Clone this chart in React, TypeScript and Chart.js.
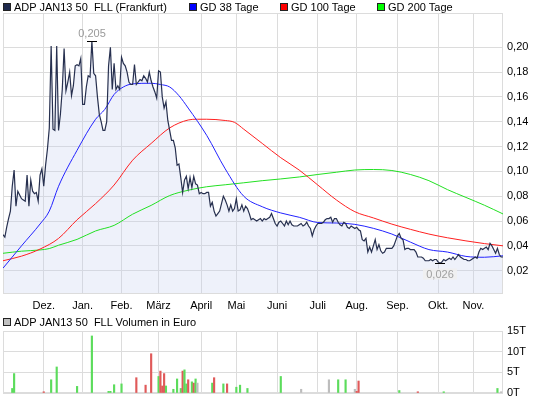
import React, { useEffect, useRef } from 'react';
import { Chart, registerables } from 'chart.js';

Chart.register(...registerables);

// ---- data ----
const seriesName = 'ADP JAN13 50  FLL (Frankfurt)';
const volumeName = 'ADP JAN13 50  FLL Volumen in Euro';

// daily closing prices, trading day index 0..270
const priceValues = [
  0.049, 0.047, 0.055, 0.062, 0.068, 0.088, 0.101, 0.072, 0.084, 0.081,
  0.078, 0.077, 0.076, 0.097, 0.072, 0.093, 0.084, 0.082, 0.083, 0.076,
  0.097, 0.102, 0.088, 0.105, 0.118, 0.135, 0.201, 0.134, 0.133, 0.201,
  0.133, 0.146, 0.166, 0.199, 0.165, 0.172, 0.180, 0.161, 0.169, 0.185,
  0.186, 0.185, 0.191, 0.154, 0.154, 0.168, 0.177, 0.176, 0.205, 0.179,
  0.177, 0.160, 0.146, 0.140, 0.133, 0.133, 0.140, 0.185, 0.200, 0.166,
  0.187, 0.166, 0.169, 0.166, 0.192, 0.187, 0.185, 0.180, 0.172, 0.170,
  0.170, 0.186, 0.170, 0.172, 0.174, 0.173, 0.177, 0.175, 0.172, 0.180,
  0.173, 0.168, 0.164, 0.159, 0.181, 0.180, 0.160, 0.151, 0.156, 0.141,
  0.133, 0.125, 0.125, 0.119, 0.105, 0.106, 0.095, 0.083, 0.093, 0.096,
  0.086, 0.095, 0.087, 0.096, 0.090, 0.089, 0.082, 0.083, 0.082, 0.082,
  0.083, 0.083, 0.072, 0.075, 0.068, 0.064, 0.066, 0.068, 0.074, 0.080,
  0.077, 0.073, 0.068, 0.073, 0.068, 0.070, 0.078, 0.068, 0.069, 0.073,
  0.068, 0.072, 0.070, 0.066, 0.061, 0.062, 0.061, 0.060, 0.061, 0.062,
  0.060, 0.062, 0.061, 0.062, 0.063, 0.066, 0.062, 0.058, 0.056, 0.059,
  0.060, 0.058, 0.056, 0.060, 0.057, 0.060, 0.057, 0.056, 0.056, 0.056,
  0.057, 0.058, 0.056, 0.057, 0.059, 0.056, 0.054, 0.048, 0.053, 0.056,
  0.058, 0.058, 0.058, 0.059, 0.061, 0.062, 0.062, 0.063, 0.059, 0.062,
  0.062, 0.059, 0.057, 0.056, 0.059, 0.058, 0.055, 0.054, 0.056, 0.055,
  0.054, 0.055, 0.053, 0.052, 0.045, 0.044, 0.046, 0.035, 0.039, 0.035,
  0.040, 0.045, 0.037, 0.041, 0.036, 0.034, 0.035, 0.038, 0.038, 0.038,
  0.038, 0.040, 0.044, 0.048, 0.050, 0.046, 0.045, 0.037, 0.038, 0.038,
  0.037, 0.037, 0.037, 0.035, 0.031, 0.031, 0.031, 0.030, 0.028, 0.028,
  0.028, 0.029, 0.028, 0.029, 0.029, 0.027, 0.026, 0.027, 0.029, 0.028,
  0.029, 0.030, 0.029, 0.031, 0.029, 0.031, 0.033, 0.031, 0.030, 0.029,
  0.029, 0.028, 0.028, 0.029, 0.030, 0.031, 0.030, 0.035, 0.038, 0.037,
  0.038, 0.039, 0.037, 0.042, 0.040, 0.037, 0.034, 0.038, 0.033, 0.031,
  0.031,
];

const gd38Days = [0, 5, 10, 20, 25, 30, 40, 50, 55, 60, 65, 70, 80, 85, 90, 95, 100, 110, 120, 130, 140, 150, 160, 170, 180, 190, 200, 210, 220, 230, 240, 250, 260, 270];
const gd38Values = [0.022, 0.031, 0.040, 0.0576, 0.068, 0.088, 0.117, 0.142, 0.150, 0.162, 0.168, 0.1705, 0.171, 0.170, 0.168, 0.161, 0.151, 0.129, 0.102, 0.080, 0.0715, 0.0665, 0.063, 0.0588, 0.0584, 0.0573, 0.0541, 0.0495, 0.043, 0.037, 0.035, 0.0315, 0.0308, 0.032];

const gd100Days = [0, 10, 20, 30, 40, 50, 60, 70, 80, 90, 100, 105, 110, 120, 125, 130, 140, 150, 160, 170, 180, 190, 200, 210, 220, 230, 240, 250, 260, 270];
const gd100Values = [0.028, 0.0317, 0.0374, 0.046, 0.061, 0.074, 0.089, 0.109, 0.1225, 0.135, 0.1414, 0.142, 0.142, 0.141, 0.1395, 0.134, 0.1225, 0.111, 0.101, 0.089, 0.077, 0.0675, 0.0625, 0.0575, 0.0533, 0.0495, 0.0465, 0.044, 0.0418, 0.040];

const gd200Days = [0, 10, 20, 25, 30, 40, 50, 60, 70, 80, 90, 100, 110, 120, 130, 140, 150, 160, 170, 180, 190, 200, 210, 220, 230, 240, 250, 260, 270];
const gd200Values = [0.034, 0.0357, 0.0367, 0.0378, 0.0405, 0.0452, 0.052, 0.0565, 0.0655, 0.0726, 0.0805, 0.0848, 0.0876, 0.0892, 0.0908, 0.0925, 0.0939, 0.0955, 0.0975, 0.0993, 0.1011, 0.1015, 0.1007, 0.0975, 0.0925, 0.0853, 0.079, 0.0727, 0.0657];

const monthDays = [22, 43, 64, 84, 107, 126, 148, 170, 191, 213, 235, 254];
const monthLabels = ['Dez.', 'Jan.', 'Feb.', 'März', 'April', 'Mai', 'Juni', 'Juli', 'Aug.', 'Sep.', 'Okt.', 'Nov.'];
const priceTicks = [0.02, 0.04, 0.06, 0.08, 0.10, 0.12, 0.14, 0.16, 0.18, 0.20];

// volume in thousand euro, with direction u (up), d (down), n (unchanged)
const volumeDays = [5, 6, 22, 26, 29, 40, 48, 57, 58, 60, 64, 72, 77, 80, 84, 85, 86, 87, 88, 92, 94, 96, 97, 98, 99, 100, 102, 103, 104, 105, 113, 114, 119, 121, 126, 128, 132, 150, 161, 176, 181, 185, 190, 191, 192, 214, 224, 238, 267, 269];
const volumeValues = [1.1, 4.7, 0.3, 3.2, 6.3, 1.6, 13.8, 0.4, 0.4, 2.0, 2.2, 3.7, 1.9, 9.5, 4.0, 5.3, 1.7, 4.7, 1.7, 0.9, 3.4, 1.1, 5.3, 5.6, 2.2, 3.2, 2.7, 2.4, 3.4, 2.4, 2.4, 3.7, 2.2, 2.2, 1.4, 1.9, 1.1, 4.0, 0.9, 3.2, 3.2, 3.2, 0.9, 0.4, 2.9, 0.6, 0.3, 0.3, 1.1, 0.3];
const volumeDirs = ['u', 'u', 'd', 'u', 'u', 'u', 'u', 'u', 'u', 'u', 'u', 'd', 'd', 'd', 'u', 'd', 'd', 'd', 'u', 'u', 'u', 'u', 'd', 'u', 'u', 'd', 'u', 'd', 'u', 'n', 'u', 'd', 'u', 'd', 'u', 'u', 'u', 'u', 'n', 'n', 'u', 'u', 'n', 'd', 'd', 'u', 'd', 'u', 'u', 'n'];
const volumeTicks = [0, 5, 10, 15];

// ---- styling ----
const FONT = '"Liberation Sans", Arial, Helvetica, sans-serif';
const GRID = '#dcdcdc';
const DIR_COLORS: Record<string, string> = { u: '#5cdc5c', d: '#e05a5a', n: '#bdbdbd' };

const fmt = (v: number, d: number) => v.toFixed(d).replace('.', ',');

const framePlugin = {
  id: 'frame',
  beforeDatasetsDraw(chart: any) {
    const { ctx, chartArea: a } = chart;
    ctx.save();
    ctx.strokeStyle = GRID;
    ctx.lineWidth = 1;
    ctx.strokeRect(Math.round(a.left) + 0.5, Math.round(a.top) + 0.5, Math.round(a.right - a.left) - 1, Math.round(a.bottom - a.top) - 1);
    ctx.restore();
  },
};

const extremaPlugin = {
  id: 'extrema',
  afterDatasetsDraw(chart: any) {
    const { ctx } = chart;
    const xs = chart.scales.x;
    const ys = chart.scales.y;
    const max = Math.max(...priceValues);
    const min = Math.min(...priceValues);
    const maxI = priceValues.indexOf(max);
    const minI = priceValues.indexOf(min);
    ctx.save();
    ctx.font = `11px ${FONT}`;
    ctx.textAlign = 'center';
    ctx.textBaseline = 'middle';
    let px = Math.round(xs.getPixelForValue(maxI));
    let py = Math.round(ys.getPixelForValue(max)) + 0.5;
    ctx.strokeStyle = '#000';
    ctx.lineWidth = 1;
    ctx.beginPath();
    ctx.moveTo(px - 5, py);
    ctx.lineTo(px + 5, py);
    ctx.stroke();
    ctx.fillStyle = '#9a9a9a';
    ctx.fillText(fmt(max, 3), px, py - 8);
    px = Math.round(xs.getPixelForValue(minI));
    py = Math.round(ys.getPixelForValue(min)) + 0.5;
    ctx.beginPath();
    ctx.moveTo(px - 5, py);
    ctx.lineTo(px + 5, py);
    ctx.stroke();
    ctx.fillStyle = 'rgba(240,240,240,0.9)';
    ctx.fillRect(px - 17, py + 5, 34, 11);
    ctx.fillStyle = '#a0a0a0';
    ctx.fillText(fmt(min, 3), px, py + 11);
    ctx.restore();
  },
};

const pts = (days: number[], vals: number[]) => days.map((d, i) => ({ x: d, y: vals[i] }));

const noPad = (s: any) => {
  s.paddingTop = 0;
  s.paddingBottom = 0;
  s.paddingLeft = 0;
  s.paddingRight = 0;
};

export default function App() {
  const mainRef = useRef<HTMLCanvasElement>(null);
  const volRef = useRef<HTMLCanvasElement>(null);

  useEffect(() => {
    Chart.defaults.font.family = FONT;
    Chart.defaults.font.size = 11;
    Chart.defaults.color = '#000';

    const main = new Chart(mainRef.current!, {
      type: 'line',
      data: {
        datasets: [
          {
            label: seriesName,
            data: priceValues.map((v, i) => ({ x: i, y: v })),
            borderColor: '#27304f',
            borderWidth: 1.2,
            fill: 'start',
            backgroundColor: 'rgba(200,210,240,0.3)',
            pointRadius: 0,
            tension: 0,
          },
          {
            label: 'GD 38 Tage',
            data: pts(gd38Days, gd38Values),
            borderColor: '#2222ff',
            borderWidth: 1,
            pointRadius: 0,
            cubicInterpolationMode: 'monotone',
          },
          {
            label: 'GD 100 Tage',
            data: pts(gd100Days, gd100Values),
            borderColor: '#ff2020',
            borderWidth: 1,
            pointRadius: 0,
            cubicInterpolationMode: 'monotone',
          },
          {
            label: 'GD 200 Tage',
            data: pts(gd200Days, gd200Values),
            borderColor: '#22e022',
            borderWidth: 1,
            pointRadius: 0,
            cubicInterpolationMode: 'monotone',
          },
        ],
      },
      options: {
        responsive: false,
        animation: false,
        events: [],
        layout: { padding: { top: 13, left: 3, right: 0, bottom: 0 } },
        plugins: {
          legend: { display: false },
          tooltip: { enabled: false },
          filler: { drawTime: 'beforeDatasetsDraw' },
        } as any,
        scales: {
          x: {
            type: 'linear',
            min: 0,
            max: priceValues.length - 1,
            grid: { color: GRID, drawTicks: false },
            border: { display: false },
            afterBuildTicks: (s: any) => {
              s.ticks = monthDays.map((v) => ({ value: v }));
            },
            afterFit: (s: any) => {
              s.height = 18;
              noPad(s);
            },
            ticks: {
              padding: 5,
              maxRotation: 0,
              autoSkip: false,
              callback: (v: any) => {
                const i = monthDays.indexOf(Number(v));
                return i >= 0 ? monthLabels[i] : '';
              },
            },
          },
          y: {
            type: 'linear',
            position: 'right',
            min: 0.0012,
            max: 0.2276,
            grid: { color: GRID, drawTicks: false },
            border: { display: false },
            afterBuildTicks: (s: any) => {
              s.ticks = priceTicks.map((v) => ({ value: v }));
            },
            afterFit: (s: any) => {
              s.width = 42;
              noPad(s);
            },
            ticks: {
              padding: 4,
              callback: (v: any) => fmt(Number(v), 2),
            },
          },
        },
      },
      plugins: [framePlugin, extremaPlugin],
    } as any);

    const vol = new Chart(volRef.current!, {
      type: 'bar',
      data: {
        datasets: [
          {
            label: volumeName,
            data: pts(volumeDays, volumeValues),
            backgroundColor: volumeDirs.map((d) => DIR_COLORS[d]),
            borderWidth: 0,
            barThickness: 1.5,
          },
        ],
      },
      options: {
        responsive: false,
        animation: false,
        events: [],
        layout: { padding: { top: 17, left: 3, right: 0, bottom: 5 } },
        plugins: { legend: { display: false }, tooltip: { enabled: false } },
        scales: {
          x: {
            type: 'linear',
            min: 0,
            max: priceValues.length - 1,
            offset: false,
            grid: { color: GRID, drawTicks: false, offset: false },
            border: { display: false },
            ticks: { display: false },
            afterBuildTicks: (s: any) => {
              s.ticks = monthDays.map((v) => ({ value: v }));
            },
            afterFit: (s: any) => {
              s.height = 0;
              noPad(s);
            },
          },
          y: {
            type: 'linear',
            position: 'right',
            min: 0,
            max: 15,
            grid: { color: GRID, drawTicks: false },
            border: { display: false },
            afterBuildTicks: (s: any) => {
              s.ticks = volumeTicks.map((v) => ({ value: v }));
            },
            afterFit: (s: any) => {
              s.width = 42;
              noPad(s);
            },
            ticks: {
              padding: 4,
              callback: (v: any) => `${v}T`,
            },
          },
        },
      },
      plugins: [framePlugin],
    } as any);

    return () => {
      main.destroy();
      vol.destroy();
    };
  }, []);

  const legendItem = (left: number, top: number, color: string, text: string) => (
    <div
      key={text}
      style={{ position: 'absolute', left, top, height: 14, display: 'flex', alignItems: 'center', whiteSpace: 'pre', font: `11px ${FONT}`, color: '#000' }}
    >
      <span style={{ display: 'inline-block', width: 8, height: 8, boxSizing: 'border-box', border: '1px solid #222', background: color, marginRight: 3 }} />
      <span>{text}</span>
    </div>
  );

  return (
    <div style={{ position: 'absolute', left: 0, top: 0, width: 545, height: 398, background: '#fff', overflow: 'hidden' }}>
      <canvas ref={mainRef} width={545} height={312} style={{ position: 'absolute', left: 0, top: 0, width: 545, height: 312 }} />
      <canvas ref={volRef} width={545} height={84} style={{ position: 'absolute', left: 0, top: 314, width: 545, height: 84 }} />
      {legendItem(3, 0, '#1f2a4d', seriesName)}
      {legendItem(189, 0, '#0000ff', 'GD 38 Tage')}
      {legendItem(280, 0, '#ff0000', 'GD 100 Tage')}
      {legendItem(377, 0, '#00ff00', 'GD 200 Tage')}
      {legendItem(3, 315, '#c0c0c0', volumeName)}
    </div>
  );
}
